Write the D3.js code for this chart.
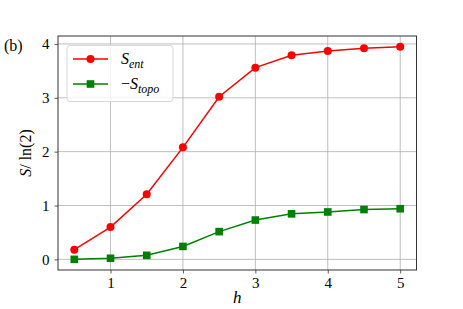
<!DOCTYPE html>
<html>
<head>
<meta charset="utf-8">
<script src="https://cdn.jsdelivr.net/npm/d3@7"></script>
<style>
  body { margin: 0; background: #fff; }
  text { font-family: "Liberation Serif", "DejaVu Serif", serif; }
</style>
</head>
<body>
<div id="chart"></div>
<script>
const hValues = [0.5, 1, 1.5, 2, 2.5, 3, 3.5, 4, 4.5, 5];
const sEnt = [0.18, 0.6, 1.21, 2.08, 3.02, 3.56, 3.79, 3.87, 3.92, 3.95];
const sTopo = [0.0, 0.02, 0.075, 0.24, 0.515, 0.73, 0.845, 0.88, 0.925, 0.94];
const xTicks = [1, 2, 3, 4, 5];
const yTicks = [0, 1, 2, 3, 4];

const w = 463, h = 309;
const margin = { left: 58, top: 36, right: 463 - 416.5, bottom: 309 - 270 };

const svg = d3.select("#chart").append("svg")
  .attr("width", w).attr("height", h);

const x = d3.scaleLinear().domain([0.275, 5.225]).range([margin.left, w - margin.right]);
const y = d3.scaleLinear().domain([-0.1975, 4.1475]).range([h - margin.bottom, margin.top]);

// grid
svg.append("g").selectAll("line").data(xTicks).enter().append("line")
  .attr("x1", d => x(d)).attr("x2", d => x(d))
  .attr("y1", margin.top).attr("y2", h - margin.bottom)
  .attr("stroke", "#b0b0b0").attr("stroke-width", 0.8);
svg.append("g").selectAll("line").data(yTicks).enter().append("line")
  .attr("y1", d => y(d)).attr("y2", d => y(d))
  .attr("x1", margin.left).attr("x2", w - margin.right)
  .attr("stroke", "#b0b0b0").attr("stroke-width", 0.8);

// axes
const xAxis = svg.append("g")
  .attr("transform", `translate(0,${h - margin.bottom})`)
  .call(d3.axisBottom(x).tickValues(xTicks).tickSize(3.5).tickPadding(4).tickFormat(d3.format("d")));
const yAxis = svg.append("g")
  .attr("transform", `translate(${margin.left},0)`)
  .call(d3.axisLeft(y).tickValues(yTicks).tickSize(3.5).tickPadding(5).tickFormat(d3.format("d")));
[xAxis, yAxis].forEach(a => {
  a.select(".domain").remove();
  a.selectAll("text").style("font-size", "15px").attr("fill", "#000")
    .style("font-family", "'Liberation Serif', serif");
  a.selectAll("line").attr("stroke", "#333").attr("stroke-width", 0.8);
});

// frame
svg.append("rect")
  .attr("x", margin.left).attr("y", margin.top)
  .attr("width", w - margin.right - margin.left)
  .attr("height", h - margin.bottom - margin.top)
  .attr("fill", "none").attr("stroke", "#333").attr("stroke-width", 1);

const line = d3.line().x((d, i) => x(hValues[i])).y(d => y(d));

svg.append("path").datum(sEnt).attr("d", line)
  .attr("fill", "none").attr("stroke", "#ff0000").attr("stroke-width", 1.5);
svg.append("g").selectAll("circle").data(sEnt).enter().append("circle")
  .attr("cx", (d, i) => x(hValues[i])).attr("cy", d => y(d)).attr("r", 4)
  .attr("fill", "#ff0000");

svg.append("path").datum(sTopo).attr("d", line)
  .attr("fill", "none").attr("stroke", "#008000").attr("stroke-width", 1.5);
svg.append("g").selectAll("rect").data(sTopo).enter().append("rect")
  .attr("x", (d, i) => x(hValues[i]) - 3.8).attr("y", d => y(d) - 3.8)
  .attr("width", 7.6).attr("height", 7.6)
  .attr("fill", "#008000");

// legend
const lg = svg.append("g");
lg.append("rect")
  .attr("x", 67).attr("y", 45.5).attr("width", 106).attr("height", 56)
  .attr("rx", 3).attr("fill", "#fff").attr("fill-opacity", 0.8)
  .attr("stroke", "#d9d9d9").attr("stroke-width", 1);

const legendItems = [
  { color: "#ff0000", shape: "circle", prefix: "", sub: "ent", y: 59 },
  { color: "#008000", shape: "square", prefix: "\u2212", sub: "topo", y: 84 }
];
legendItems.forEach(item => {
  lg.append("line").attr("x1", 73).attr("x2", 108).attr("y1", item.y).attr("y2", item.y)
    .attr("stroke", item.color).attr("stroke-width", 1.5);
  if (item.shape === "circle") {
    lg.append("circle").attr("cx", 90.5).attr("cy", item.y).attr("r", 4).attr("fill", item.color);
  } else {
    lg.append("rect").attr("x", 90.5 - 3.8).attr("y", item.y - 3.8)
      .attr("width", 7.6).attr("height", 7.6).attr("fill", item.color);
  }
  const t = lg.append("text").attr("x", 121).attr("y", item.y + 5).style("font-size", "16px");
  if (item.prefix) t.append("tspan").text(item.prefix);
  t.append("tspan").style("font-style", "italic").text("S");
  t.append("tspan").attr("dy", 4).style("font-style", "italic").style("font-size", "12px").text(item.sub);
});

// labels
svg.append("text").attr("x", 4).attr("y", 51).style("font-size", "16px").text("(b)");

const yl = svg.append("text")
  .attr("transform", `translate(31,${(margin.top + h - margin.bottom) / 2}) rotate(-90)`)
  .attr("text-anchor", "middle").style("font-size", "16px");
yl.append("tspan").style("font-style", "italic").text("S");
yl.append("tspan").text("/ ln(2)");

svg.append("text").attr("x", x(2.75)).attr("y", 303)
  .attr("text-anchor", "middle").style("font-size", "17px").style("font-style", "italic").text("h");
</script>
</body>
</html>
